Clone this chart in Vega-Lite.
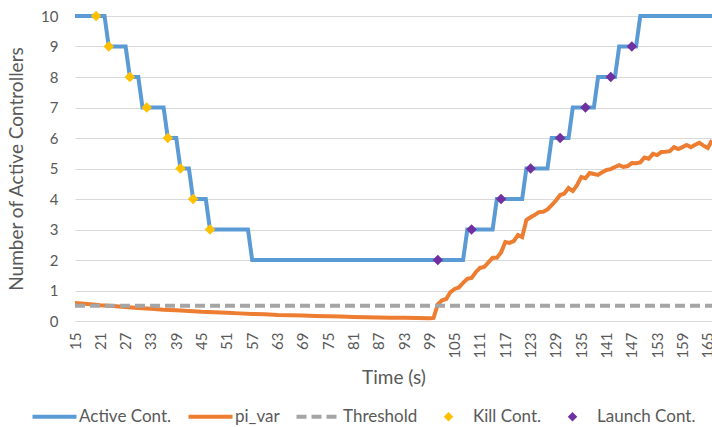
{
  "$schema": "https://vega.github.io/schema/vega-lite/v6.json",
  "autosize": {"type": "none"},
  "padding": {"left": 75, "top": 16, "right": 0, "bottom": 106},
  "width": 637,
  "height": 305,
  "background": "white",
  "datasets": {
    "lines": [
      {"t": 15, "series": "Active Cont.", "v": 10}, {"t": 22, "series": "Active Cont.", "v": 10},
      {"t": 23, "series": "Active Cont.", "v": 9}, {"t": 27, "series": "Active Cont.", "v": 9},
      {"t": 28, "series": "Active Cont.", "v": 8}, {"t": 30, "series": "Active Cont.", "v": 8},
      {"t": 31, "series": "Active Cont.", "v": 7}, {"t": 36, "series": "Active Cont.", "v": 7},
      {"t": 37, "series": "Active Cont.", "v": 6}, {"t": 39, "series": "Active Cont.", "v": 6},
      {"t": 40, "series": "Active Cont.", "v": 5}, {"t": 42, "series": "Active Cont.", "v": 5},
      {"t": 43, "series": "Active Cont.", "v": 4}, {"t": 46, "series": "Active Cont.", "v": 4},
      {"t": 47, "series": "Active Cont.", "v": 3}, {"t": 56, "series": "Active Cont.", "v": 3},
      {"t": 57, "series": "Active Cont.", "v": 2}, {"t": 107, "series": "Active Cont.", "v": 2},
      {"t": 108, "series": "Active Cont.", "v": 3}, {"t": 114, "series": "Active Cont.", "v": 3},
      {"t": 115, "series": "Active Cont.", "v": 4}, {"t": 121, "series": "Active Cont.", "v": 4},
      {"t": 122, "series": "Active Cont.", "v": 5}, {"t": 127, "series": "Active Cont.", "v": 5},
      {"t": 128, "series": "Active Cont.", "v": 6}, {"t": 132, "series": "Active Cont.", "v": 6},
      {"t": 133, "series": "Active Cont.", "v": 7}, {"t": 138, "series": "Active Cont.", "v": 7},
      {"t": 139, "series": "Active Cont.", "v": 8}, {"t": 143, "series": "Active Cont.", "v": 8},
      {"t": 144, "series": "Active Cont.", "v": 9}, {"t": 148, "series": "Active Cont.", "v": 9},
      {"t": 149, "series": "Active Cont.", "v": 10}, {"t": 166, "series": "Active Cont.", "v": 10},

      {"t": 15, "series": "pi_var", "v": 0.59}, {"t": 18, "series": "pi_var", "v": 0.56},
      {"t": 21, "series": "pi_var", "v": 0.52}, {"t": 24, "series": "pi_var", "v": 0.49},
      {"t": 27, "series": "pi_var", "v": 0.46}, {"t": 30, "series": "pi_var", "v": 0.43},
      {"t": 33, "series": "pi_var", "v": 0.40}, {"t": 36, "series": "pi_var", "v": 0.37},
      {"t": 39, "series": "pi_var", "v": 0.35}, {"t": 42, "series": "pi_var", "v": 0.33},
      {"t": 45, "series": "pi_var", "v": 0.30}, {"t": 48, "series": "pi_var", "v": 0.285},
      {"t": 51, "series": "pi_var", "v": 0.27}, {"t": 54, "series": "pi_var", "v": 0.25},
      {"t": 57, "series": "pi_var", "v": 0.23}, {"t": 60, "series": "pi_var", "v": 0.22},
      {"t": 63, "series": "pi_var", "v": 0.20}, {"t": 66, "series": "pi_var", "v": 0.19},
      {"t": 69, "series": "pi_var", "v": 0.18}, {"t": 72, "series": "pi_var", "v": 0.165},
      {"t": 75, "series": "pi_var", "v": 0.155}, {"t": 78, "series": "pi_var", "v": 0.145},
      {"t": 81, "series": "pi_var", "v": 0.135}, {"t": 84, "series": "pi_var", "v": 0.125},
      {"t": 87, "series": "pi_var", "v": 0.118}, {"t": 90, "series": "pi_var", "v": 0.11},
      {"t": 93, "series": "pi_var", "v": 0.103}, {"t": 96, "series": "pi_var", "v": 0.096},
      {"t": 99, "series": "pi_var", "v": 0.09}, {"t": 100, "series": "pi_var", "v": 0.10},
      {"t": 101, "series": "pi_var", "v": 0.55}, {"t": 102, "series": "pi_var", "v": 0.68},
      {"t": 103, "series": "pi_var", "v": 0.72}, {"t": 104, "series": "pi_var", "v": 0.95},
      {"t": 105, "series": "pi_var", "v": 1.05}, {"t": 106, "series": "pi_var", "v": 1.10},
      {"t": 107, "series": "pi_var", "v": 1.25}, {"t": 108, "series": "pi_var", "v": 1.38},
      {"t": 109, "series": "pi_var", "v": 1.41}, {"t": 110, "series": "pi_var", "v": 1.60},
      {"t": 111, "series": "pi_var", "v": 1.74}, {"t": 112, "series": "pi_var", "v": 1.77},
      {"t": 113, "series": "pi_var", "v": 1.92}, {"t": 114, "series": "pi_var", "v": 2.07},
      {"t": 115, "series": "pi_var", "v": 2.07}, {"t": 116, "series": "pi_var", "v": 2.25},
      {"t": 117, "series": "pi_var", "v": 2.59}, {"t": 118, "series": "pi_var", "v": 2.56},
      {"t": 119, "series": "pi_var", "v": 2.62}, {"t": 120, "series": "pi_var", "v": 2.82},
      {"t": 121, "series": "pi_var", "v": 2.75}, {"t": 122, "series": "pi_var", "v": 3.31},
      {"t": 123, "series": "pi_var", "v": 3.40}, {"t": 124, "series": "pi_var", "v": 3.48},
      {"t": 125, "series": "pi_var", "v": 3.57}, {"t": 126, "series": "pi_var", "v": 3.58},
      {"t": 127, "series": "pi_var", "v": 3.66}, {"t": 128, "series": "pi_var", "v": 3.80},
      {"t": 129, "series": "pi_var", "v": 3.95}, {"t": 130, "series": "pi_var", "v": 4.13},
      {"t": 131, "series": "pi_var", "v": 4.18}, {"t": 132, "series": "pi_var", "v": 4.36},
      {"t": 133, "series": "pi_var", "v": 4.26}, {"t": 134, "series": "pi_var", "v": 4.45},
      {"t": 135, "series": "pi_var", "v": 4.72}, {"t": 136, "series": "pi_var", "v": 4.68},
      {"t": 137, "series": "pi_var", "v": 4.85}, {"t": 138, "series": "pi_var", "v": 4.82},
      {"t": 139, "series": "pi_var", "v": 4.79}, {"t": 140, "series": "pi_var", "v": 4.88},
      {"t": 141, "series": "pi_var", "v": 4.95}, {"t": 142, "series": "pi_var", "v": 4.98},
      {"t": 143, "series": "pi_var", "v": 5.05}, {"t": 144, "series": "pi_var", "v": 5.11},
      {"t": 145, "series": "pi_var", "v": 5.05}, {"t": 146, "series": "pi_var", "v": 5.08},
      {"t": 147, "series": "pi_var", "v": 5.18}, {"t": 148, "series": "pi_var", "v": 5.17},
      {"t": 149, "series": "pi_var", "v": 5.20}, {"t": 150, "series": "pi_var", "v": 5.36},
      {"t": 151, "series": "pi_var", "v": 5.32}, {"t": 152, "series": "pi_var", "v": 5.48},
      {"t": 153, "series": "pi_var", "v": 5.44}, {"t": 154, "series": "pi_var", "v": 5.54},
      {"t": 155, "series": "pi_var", "v": 5.55}, {"t": 156, "series": "pi_var", "v": 5.57},
      {"t": 157, "series": "pi_var", "v": 5.70}, {"t": 158, "series": "pi_var", "v": 5.64},
      {"t": 159, "series": "pi_var", "v": 5.70}, {"t": 160, "series": "pi_var", "v": 5.77},
      {"t": 161, "series": "pi_var", "v": 5.70}, {"t": 162, "series": "pi_var", "v": 5.78},
      {"t": 163, "series": "pi_var", "v": 5.84}, {"t": 164, "series": "pi_var", "v": 5.75},
      {"t": 165, "series": "pi_var", "v": 5.67}, {"t": 166, "series": "pi_var", "v": 5.93},

      {"t": 15, "series": "Threshold", "v": 0.5}, {"t": 166, "series": "Threshold", "v": 0.5}
    ],
    "markers": [
      {"t": 20, "series": "Kill Cont.", "v": 10}, {"t": 23, "series": "Kill Cont.", "v": 9},
      {"t": 28, "series": "Kill Cont.", "v": 8}, {"t": 32, "series": "Kill Cont.", "v": 7},
      {"t": 37, "series": "Kill Cont.", "v": 6}, {"t": 40, "series": "Kill Cont.", "v": 5},
      {"t": 43, "series": "Kill Cont.", "v": 4}, {"t": 47, "series": "Kill Cont.", "v": 3},
      {"t": 101, "series": "Launch Cont.", "v": 2}, {"t": 109, "series": "Launch Cont.", "v": 3},
      {"t": 116, "series": "Launch Cont.", "v": 4}, {"t": 123, "series": "Launch Cont.", "v": 5},
      {"t": 130, "series": "Launch Cont.", "v": 6}, {"t": 136, "series": "Launch Cont.", "v": 7},
      {"t": 142, "series": "Launch Cont.", "v": 8}, {"t": 147, "series": "Launch Cont.", "v": 9}
    ]
  },
  "encoding": {
    "x": {
      "field": "t", "type": "quantitative", "title": "Time (s)",
      "scale": {"domain": [15, 166], "nice": false, "zero": false},
      "axis": {
        "values": [15, 21, 27, 33, 39, 45, 51, 57, 63, 69, 75, 81, 87, 93, 99, 105, 111, 117, 123, 129, 135, 141, 147, 153, 159, 165],
        "labelAngle": -90, "grid": false, "domain": false, "ticks": false,
        "labelPadding": 11, "titlePadding": 10, "labelFlush": false, "labelFontSize": 15
      }
    },
    "y": {
      "field": "v", "type": "quantitative", "title": "Number of Active Controllers",
      "scale": {"domain": [0, 10], "nice": false},
      "axis": {
        "values": [0, 1, 2, 3, 4, 5, 6, 7, 8, 9, 10],
        "domain": false, "ticks": false, "labelPadding": 17, "titlePadding": 14,
        "labelFontSize": 15, "titleFontSize": 19
      }
    },
    "color": {
      "field": "series", "type": "nominal",
      "scale": {
        "domain": ["Active Cont.", "pi_var", "Threshold", "Kill Cont.", "Launch Cont."],
        "range": ["#5B9BD5", "#ED7D31", "#A5A5A5", "#FFC000", "#7030A0"]
      },
      "legend": {
        "title": null, "orient": "none", "direction": "horizontal", "columns": 5,
        "legendX": -43, "legendY": 392, "padding": 0,
        "symbolType": "stroke", "symbolSize": 1936, "symbolStrokeWidth": 4,
        "labelOffset": 2, "columnPadding": 8,
        "labelFont": "Lato", "labelFontSize": 17, "labelColor": "#595959",
        "encode": {
          "symbols": {
            "update": {
              "x": {"value": 22.5},
              "shape": {"signal": "indexof(['Kill Cont.', 'Launch Cont.'], datum.label) >= 0 ? 'diamond' : 'stroke'"},
              "size": {"signal": "indexof(['Kill Cont.', 'Launch Cont.'], datum.label) >= 0 ? 90 : 1936"},
              "strokeDash": {"signal": "datum.label == 'Threshold' ? [10, 5] : [1, 0]"},
              "strokeWidth": {"signal": "indexof(['Kill Cont.', 'Launch Cont.'], datum.label) >= 0 ? 0 : 4"},
              "stroke": {"scale": "color", "field": "value"},
              "fill": {"scale": "color", "field": "value"},
              "fillOpacity": {"value": 1},
              "opacity": {"value": 1}
            }
          },
          "labels": {
            "update": {
              "x": {"value": 47}
            }
          }
        }
      }
    }
  },
  "layer": [
    {
      "data": {"name": "lines"},
      "transform": [{"filter": "datum.series == 'Active Cont.'"}],
      "mark": {"type": "line", "strokeWidth": 4, "clip": false}
    },
    {
      "data": {"name": "lines"},
      "transform": [{"filter": "datum.series == 'pi_var'"}],
      "mark": {"type": "line", "strokeWidth": 4, "clip": false}
    },
    {
      "data": {"name": "lines"},
      "transform": [{"filter": "datum.series == 'Threshold'"}],
      "mark": {"type": "line", "strokeWidth": 4, "strokeDash": [10, 5], "clip": false}
    },
    {
      "data": {"name": "markers"},
      "mark": {"type": "point", "shape": "diamond", "filled": true, "size": 110, "opacity": 1, "clip": false}
    }
  ],
  "config": {
    "view": {"stroke": null},
    "font": "Lato",
    "axis": {
      "labelFont": "Lato", "titleFont": "Lato",
      "labelFontSize": 15, "titleFontSize": 19,
      "labelColor": "#595959", "titleColor": "#595959",
      "titleFontWeight": "normal",
      "gridColor": "#D9D9D9", "gridWidth": 1
    }
  }
}
